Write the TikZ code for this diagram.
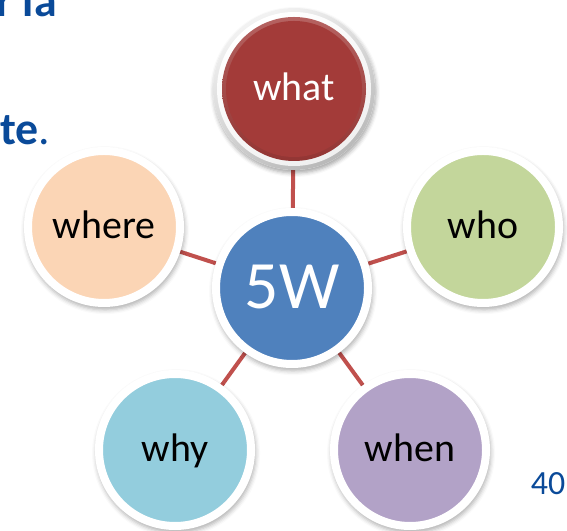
\documentclass[tikz,border=0pt]{standalone}
\usepackage{fontspec}
\setmainfont{Carlito}
\usetikzlibrary{positioning, shadows.blur, backgrounds}
\definecolor{hubblue}{RGB}{79,129,189}
\definecolor{knobred}{RGB}{163,59,57}
\definecolor{spokered}{RGB}{192,80,77}
\definecolor{wherepeach}{RGB}{251,213,181}
\definecolor{whogreen}{RGB}{195,214,155}
\definecolor{whycyan}{RGB}{147,205,221}
\definecolor{whenlilac}{RGB}{178,162,199}
\definecolor{titleblue}{RGB}{10,74,153}

\begin{document}
\begin{tikzpicture}[x=1bp, y=1bp,
  bubble/.style={circle, draw=white, line width=8bp, minimum size=152bp, inner sep=0pt,
    text height=23bp, text depth=0pt,
    blur shadow={shadow xshift=1bp, shadow yshift=-3bp, shadow scale=1.05,
      shadow blur radius=4bp, shadow opacity=30},
    font=\fontsize{40}{44}\selectfont},
  knob/.style={circle, fill=knobred, minimum size=136bp, inner sep=0pt,
    text height=23bp, text depth=0pt, text=white,
    font=\fontsize{40}{44}\selectfont},
  spoke/.style={draw=spokered, line width=4bp},
  slidetext/.style={inner sep=0pt, text=titleblue},
]
  \clip (0,0) rectangle (567,531);

  % Slide text behind the diagram
  \node[slidetext, anchor=base east, font=\fontsize{46}{50}\selectfont\bfseries] (titleA) at (57,514) {r la};
  \node[slidetext, anchor=base west, font=\fontsize{46}{50}\selectfont] (titleB) at (0,386) {\textbf{te}.};

  % Hub and the five questions
  \node[bubble, fill=hubblue, text=white, text height=42bp,
    font=\fontsize{68}{72}\selectfont] (hub) at (292,243) {5W};
  \node[knob] (what) at (294,442) {what};
  \node[bubble, fill=wherepeach] (where) at (104,304) {where};
  \node[bubble, fill=whogreen] (who) at (483,304) {who};
  \node[bubble, fill=whycyan] (why) at (175,81) {why};
  \node[bubble, fill=whenlilac] (when) at (410,81) {when};

  \begin{pgfonlayer}{background}
    % Spokes
    \foreach \q in {what, where, who, why, when} {
      \draw[spoke] (hub) -- (\q);
    }
    % Silver ring round the red button
    \path[fill=white, blur shadow={shadow xshift=1bp, shadow yshift=-3bp,
      shadow blur radius=4bp, shadow opacity=35}] (what.center) circle (81bp);
    \shade[top color=gray!10, bottom color=gray!55, shading angle=30] (what.center) circle (81bp);
    \shade[top color=white, bottom color=gray!12, shading angle=30] (what.center) circle (77bp);
    \shade[top color=knobred!80!white, bottom color=knobred!90!black] (what.center) circle (72bp);
  \end{pgfonlayer}

  % Page number
  \node[slidetext, anchor=base, font=\fontsize{34}{38}\selectfont] (pageno) at (548,36) {40};
\end{tikzpicture}
\end{document}
